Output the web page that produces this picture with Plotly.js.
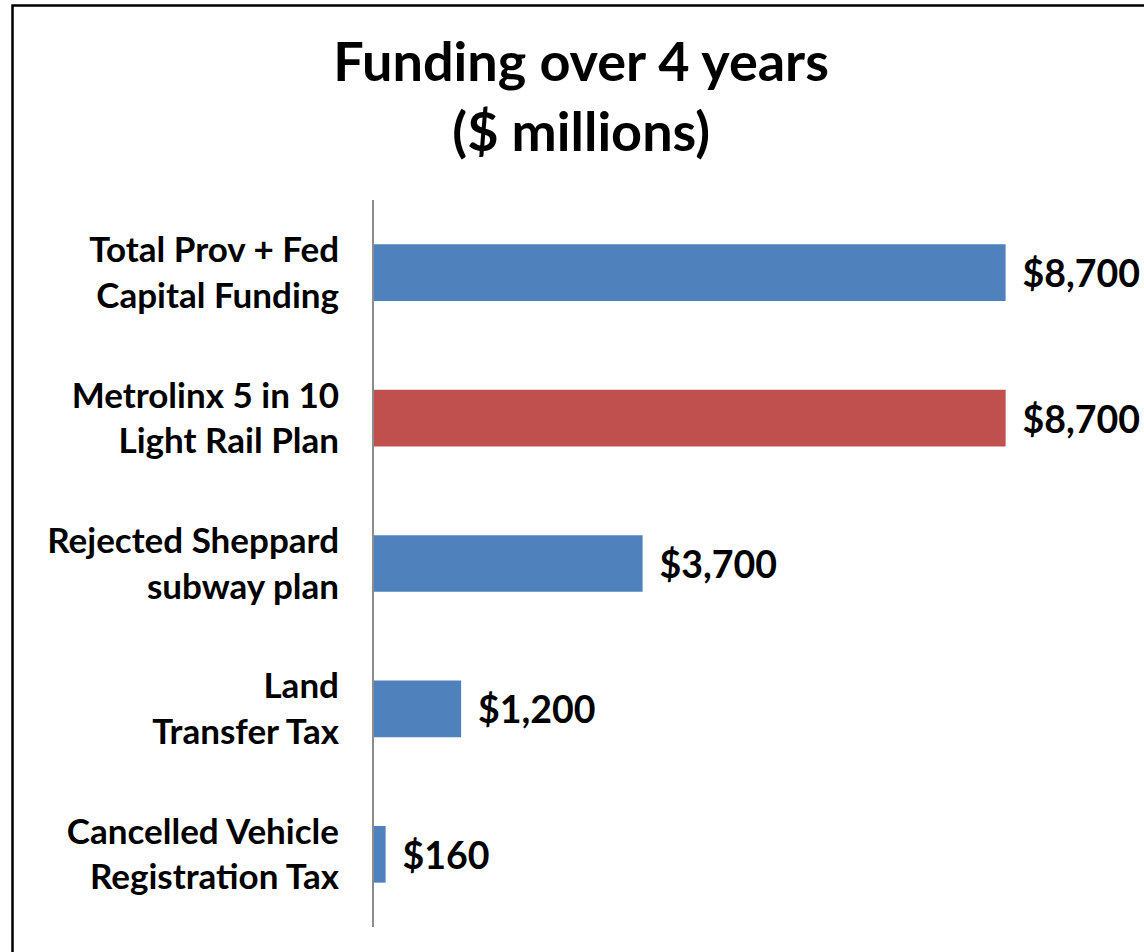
<!DOCTYPE html>
<html>
<head>
<meta charset="utf-8">
<script src="https://cdn.plot.ly/plotly-3.0.1.min.js"></script>
<style>
html,body{margin:0;padding:0;background:#fff;}
#chart{width:1144px;height:952px;}
</style>
</head>
<body>
<div id="chart"></div>
<script>
const categories = [
  "Total Prov + Fed<br>Capital Funding",
  "Metrolinx 5 in 10<br>Light Rail Plan",
  "Rejected Sheppard<br>subway plan",
  "Land<br>Transfer Tax",
  "Cancelled Vehicle<br>Registration Tax"
];
const values = [8700, 8700, 3700, 1200, 160];
const barColors = ["#4F81BD", "#C0504D", "#4F81BD", "#4F81BD", "#4F81BD"];
const titleText = "Funding over 4 years<br>($ millions)";

const W = 1144, H = 952;
const m = {l: 374, r: 44, t: 200, b: 25};
const pw = W - m.l - m.r, ph = H - m.t - m.b;
const px = v => (v - m.l) / pw;
const py = v => (H - m.b - v) / ph;

const trace = {
  type: "bar",
  orientation: "h",
  y: categories,
  x: values,
  marker: {color: barColors},
  text: values.map(v => "\u00a0\u2009$" + v.toLocaleString("en-US")),
  textposition: "outside",
  constraintext: "none",
  cliponaxis: false,
  textfont: {family: "Lato, sans-serif", size: 37.5, color: "#000", weight: 700},
  hoverinfo: "none"
};

const layout = {
  width: W, height: H,
  margin: m,
  paper_bgcolor: "#fff",
  plot_bgcolor: "#fff",
  showlegend: false,
  bargap: 0.61,
  title: {
    text: titleText,
    font: {family: "Lato, sans-serif", size: 54, color: "#000", weight: 700},
    x: 0.508, xanchor: "center",
    y: 0.915, yanchor: "top"
  },
  xaxis: {
    range: [0, 10000],
    showgrid: false, zeroline: false, showline: false,
    showticklabels: false, ticks: ""
  },
  yaxis: {
    type: "category",
    autorange: "reversed",
    showgrid: false, zeroline: false,
    showline: true, linecolor: "#8C8C8C", linewidth: 2,
    ticks: "",
    ticklabelstandoff: 26,
    tickfont: {family: "Lato, sans-serif", size: 35, color: "#000", weight: 700}
  },
  shapes: [{
    type: "rect", xref: "paper", yref: "paper",
    x0: px(12.5), x1: px(1200), y0: py(1000), y1: py(5.5),
    line: {color: "#000", width: 2.5}, fillcolor: "rgba(0,0,0,0)", layer: "below"
  }]
};

Plotly.newPlot("chart", [trace], layout, {staticPlot: true});
</script>
</body>
</html>
